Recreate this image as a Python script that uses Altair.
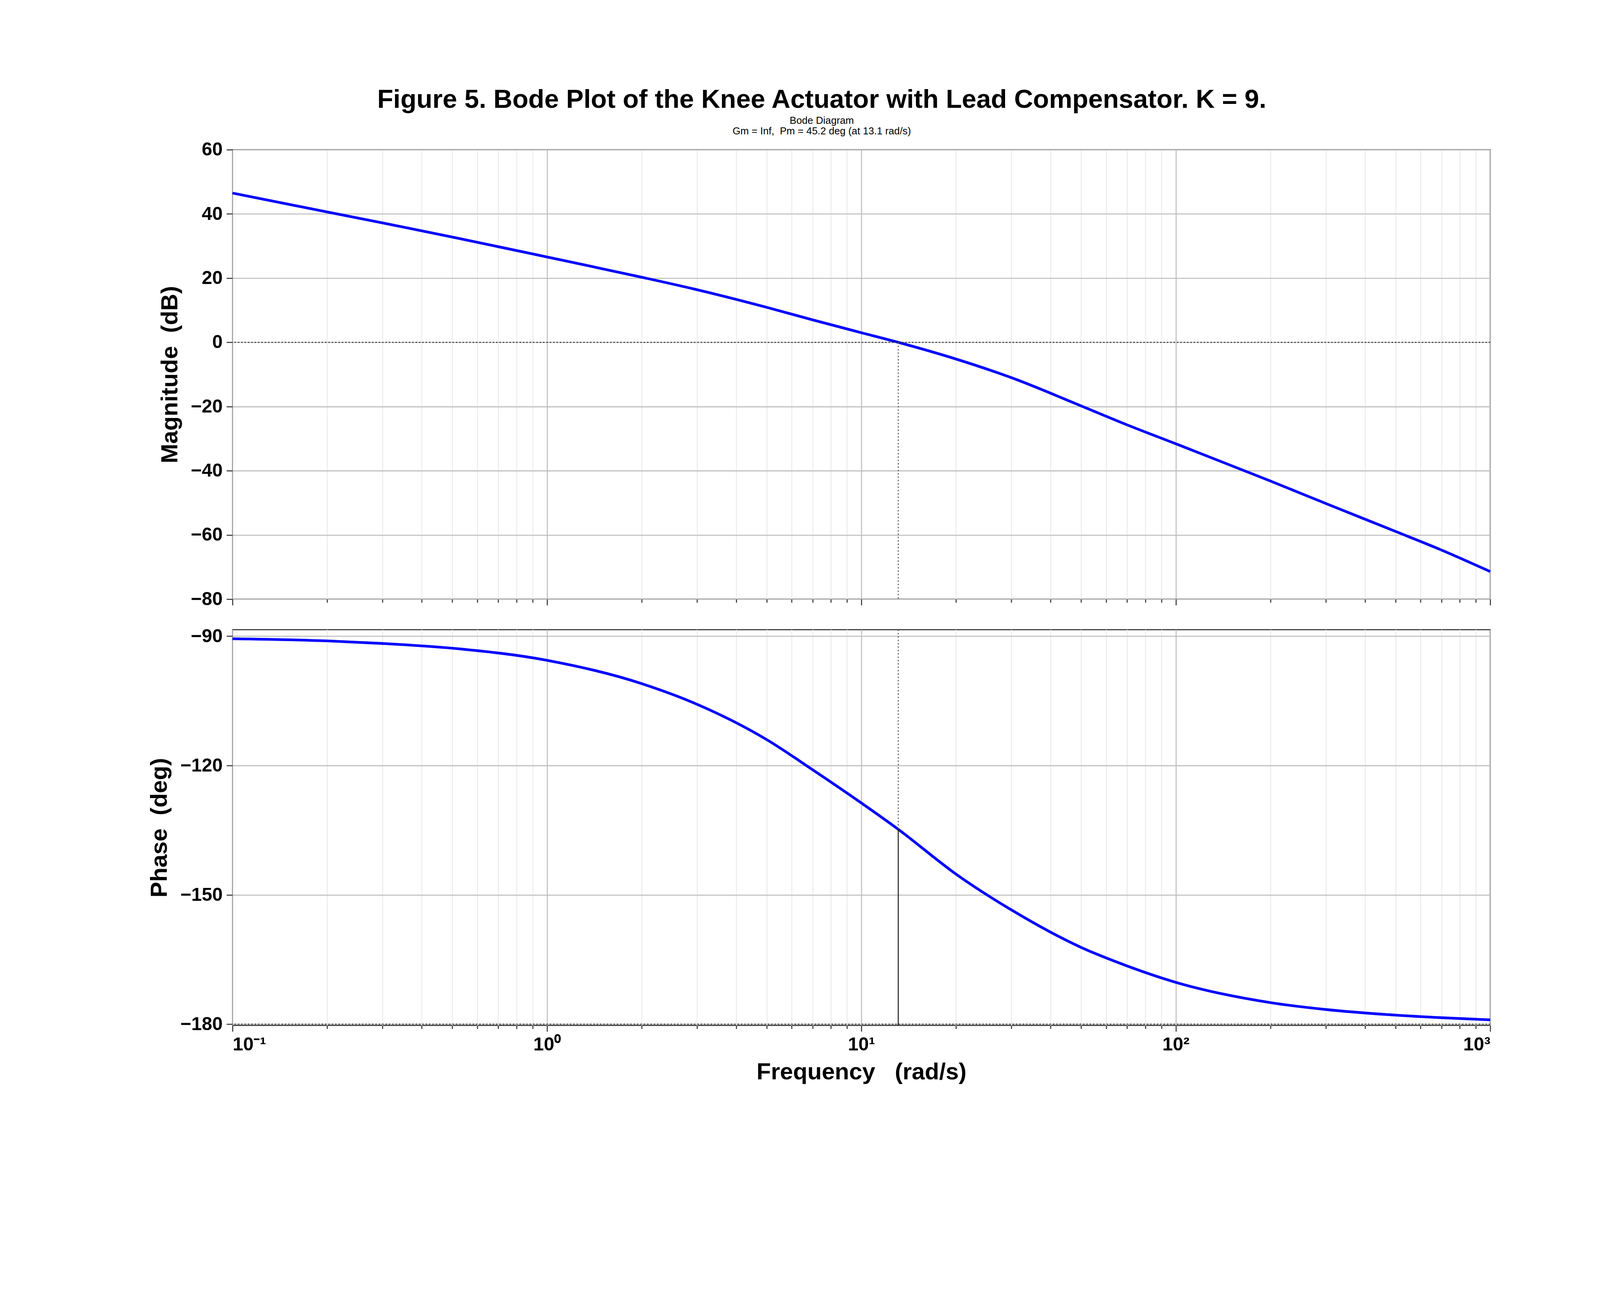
import altair as alt
import pandas as pd

freq = [0.1, 0.2, 0.3, 0.5, 1, 2, 3, 5, 7, 10, 13.1, 20, 30, 50, 70, 100, 200, 300, 500, 700, 1000]
mag = [46.5, 40.6, 37.2, 32.8, 26.6, 20.3, 16.4, 10.9, 7.0, 3.0, 0.0, -5.2, -11.0, -19.8, -25.7, -31.6, -43.2, -50.2, -58.9, -64.7, -71.4]
phase = [-90.6, -91.1, -91.7, -92.8, -95.6, -101.0, -105.8, -114.0, -121.0, -128.7, -134.8, -145.2, -153.5, -162.2, -166.5, -170.3, -175.0, -176.6, -177.9, -178.5, -179.0]

pm_freq = 13.1
pm_phase = -134.8
xdom = [0.1, 1000]

df = pd.DataFrame({"f": freq, "mag": mag, "phase": phase})

xticks = [d * m for d in [0.1, 1, 10, 100] for m in range(1, 10)] + [1000]
is_decade = "abs(log(datum.value)/LN10 - round(log(datum.value)/LN10)) < 0.001"
sup = {"0.1": "10⁻¹", "1": "10⁰", "10": "10¹", "100": "10²", "1000": "10³"}
label_expr = " : ".join(f"datum.value == {k} ? '{v}'" for k, v in sup.items()) + " : ''"

FONT = "Liberation Sans"
NB = "\u00a0"
W = 3750


def xaxis(show):
    return alt.X(
        "f:Q",
        scale=alt.Scale(type="log", domain=xdom, nice=False),
        axis=alt.Axis(
            values=xticks,
            labelExpr=label_expr if show else "''",
            labels=show,
            title=f"Frequency{NB}{NB}{NB}(rad/s)" if show else None,
            gridColor={"condition": {"test": is_decade, "value": "#bdbdbd"}, "value": "#ececec"},
            gridWidth=3,
            tickSize={"condition": {"test": is_decade, "value": 18}, "value": 10},
            tickColor="#333",
            tickWidth=3,
            domain=False,
            labelFontSize=56,
            labelFontWeight="bold",
            titleFontSize=70,
            titleFontWeight="bold",
            titlePadding=20,
            labelPadding=12,
        ),
    )


def yaxis(field, title, dom, vals):
    return alt.Y(
        f"{field}:Q",
        scale=alt.Scale(domain=dom, nice=False, zero=False),
        axis=alt.Axis(
            values=vals, title=title, gridColor="#bdbdbd", gridWidth=3,
            domain=False, tickSize=18, tickWidth=3, tickColor="#333",
            labelFontSize=56, labelFontWeight="bold",
            titleFontSize=70, titleFontWeight="bold", titlePadding=25, labelPadding=12,
        ),
    )


base = alt.Chart(df)

top_line = base.mark_line(color="#0000ff", strokeWidth=8, interpolate="monotone").encode(
    x=xaxis(False), y=yaxis("mag", f"Magnitude{NB}{NB}(dB)", [-80, 60], [-80, -60, -40, -20, 0, 20, 40, 60])
)
zero_db = alt.Chart(pd.DataFrame({"y": [0]})).mark_rule(
    color="#333", strokeDash=[4, 6], strokeWidth=3
).encode(y="y:Q")
top_vert = alt.Chart(pd.DataFrame({"f": [pm_freq], "a": [0], "b": [-80]})).mark_rule(
    color="#555", strokeDash=[4, 6], strokeWidth=3
).encode(x="f:Q", y="a:Q", y2="b:Q")
top = alt.layer(top_line, zero_db, top_vert).properties(width=W, height=1340)

bot_line = base.mark_line(color="#0000ff", strokeWidth=8, interpolate="monotone").encode(
    x=xaxis(True), y=yaxis("phase", f"Phase{NB}{NB}(deg)", [-180.3, -88.5], [-180, -150, -120, -90])
)
m180 = alt.Chart(pd.DataFrame({"y": [-180]})).mark_rule(
    color="#333", strokeDash=[4, 6], strokeWidth=3
).encode(y="y:Q")
bot_dot = alt.Chart(pd.DataFrame({"f": [pm_freq], "a": [-88.5], "b": [pm_phase]})).mark_rule(
    color="#555", strokeDash=[4, 6], strokeWidth=3
).encode(x="f:Q", y="a:Q", y2="b:Q")
bot_solid = alt.Chart(pd.DataFrame({"f": [pm_freq], "a": [pm_phase], "b": [-180.3]})).mark_rule(
    color="#222", strokeWidth=3
).encode(x="f:Q", y="a:Q", y2="b:Q")
bot = alt.layer(bot_line, m180, bot_dot, bot_solid).properties(width=W, height=1180)

chart = alt.vconcat(top, bot, spacing=50).resolve_scale(x="shared").properties(
    title=alt.TitleParams(
        "Figure 5. Bode Plot of the Knee Actuator with Lead Compensator. K = 9.",
        subtitle=["Bode Diagram", f"Gm = Inf,{NB}{NB}Pm = 45.2 deg (at 13.1 rad/s)"],
        fontSize=78, fontWeight="bold", subtitleFontSize=30, subtitleColor="#000",
        subtitlePadding=8, offset=10, anchor="middle", font=FONT, subtitleFont=FONT,
    ),
    padding={"left": 430, "top": 0, "right": 300, "bottom": 50},
).configure(font=FONT).configure_view(stroke="#222", strokeWidth=3).configure_axis(
    labelFont=FONT, titleFont=FONT, labelColor="#000", titleColor="#000"
)

chart.save("out.html", embed_options={"renderer": "svg", "actions": False})
